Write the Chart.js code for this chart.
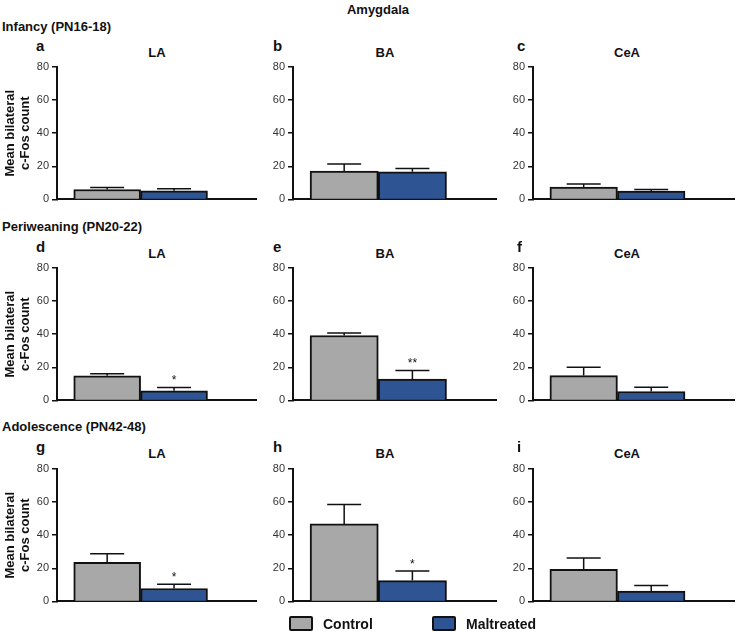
<!DOCTYPE html>
<html>
<head>
<meta charset="utf-8">
<script src="https://cdn.jsdelivr.net/npm/chart.js@4"></script>
<style>
  body { margin: 0; background: #fff; font-family: "Liberation Sans", Arial, sans-serif; }
  #wrap { position: relative; width: 736px; height: 632px; overflow: hidden; }
  canvas { position: absolute; }
  .t { position: absolute; font-weight: bold; color: #111; white-space: nowrap; line-height: 1; }
  .c { transform: translate(-50%, -50%); }
  .l { transform: translate(0, -50%); }
  .box { position: absolute; width: 20px; height: 11px; border: 2px solid #111; border-radius: 2px; }
</style>
</head>
<body>
<div id="wrap"></div>
<script>
// data
const figTitle = 'Amygdala';
const ages = ['Infancy (PN16-18)', 'Periweaning (PN20-22)', 'Adolescence (PN42-48)'];
const regions = ['LA', 'BA', 'CeA'];
const letters = [['a', 'b', 'c'], ['d', 'e', 'f'], ['g', 'h', 'i']];
const groups = ['Control', 'Maltreated'];
const yTicks = [0, 20, 40, 60, 80];

// rows = age, cols = region
const controlMean = [[6.0, 17.1, 7.5], [14.9, 39.2, 15.0], [23.6, 46.8, 19.4]];
const controlSem = [[1.2, 4.3, 1.8], [1.2, 1.6, 5.0], [5.2, 11.8, 6.8]];
const maltMean = [[5.2, 16.7, 5.0], [5.8, 12.9, 5.4], [7.8, 12.6, 6.2]];
const maltSem = [[1.3, 2.0, 1.0], [2.0, 5.2, 2.6], [2.6, 5.8, 3.4]];
const maltSig = [['', '', ''], ['*', '**', ''], ['*', '*', '']];

const colors = ['#a8a8a8', '#2e5494'];

const wrap = document.getElementById('wrap');

function addText(txt, x, y, size, cls) {
  const d = document.createElement('div');
  d.className = 't ' + cls;
  d.style.left = x + 'px';
  d.style.top = y + 'px';
  d.style.fontSize = size + 'px';
  d.textContent = txt;
  wrap.appendChild(d);
}

// error bars + significance stars, drawn from the y scale
const errorBars = {
  id: 'errbars',
  afterDatasetsDraw(chart, args, opts) {
    const ctx = chart.ctx;
    const meta = chart.getDatasetMeta(0);
    const ys = chart.scales.y;
    ctx.save();
    ctx.strokeStyle = '#111';
    ctx.lineWidth = 1.5;
    meta.data.forEach((bar, i) => {
      const v = chart.data.datasets[0].data[i].y;
      const top = ys.getPixelForValue(v + opts.sem[i]);
      ctx.beginPath();
      ctx.moveTo(bar.x, bar.y);
      ctx.lineTo(bar.x, top);
      ctx.moveTo(bar.x - 17, top);
      ctx.lineTo(bar.x + 17, top);
      ctx.stroke();
      if (opts.sig[i]) {
        ctx.fillStyle = '#111';
        ctx.font = '12px "Liberation Sans"';
        ctx.textAlign = 'center';
        ctx.textBaseline = 'alphabetic';
        ctx.fillText(opts.sig[i], bar.x, top - 3);
      }
    });
    ctx.restore();
  }
};

const colLeft = [0, 240, 480];
const colAxisW = [57, 53, 53];
const colWidth = [257, 257, 255];
const rowTop = [57, 258, 459];
const letterX = [36, 273, 517];
const regionX = [157, 385, 627];
const ageY = [26, 226, 426];
const letterY = [45, 246, 446];
const regionY = [52, 253, 453];

addText(figTitle, 378, 9, 13, 'c');

for (let r = 0; r < 3; r++) {
  addText(ages[r], 2, ageY[r], 13, 'l');
  for (let c = 0; c < 3; c++) {
    addText(letters[r][c], letterX[c], letterY[r], 15, 'l');
    addText(regions[c], regionX[c], regionY[r], 13, 'c');

    const cv = document.createElement('canvas');
    cv.width = colWidth[c];
    cv.height = 152;
    cv.style.left = colLeft[c] + 'px';
    cv.style.top = rowTop[r] + 'px';
    wrap.appendChild(cv);

    const means = [controlMean[r][c], maltMean[r][c]];
    const sems = [controlSem[r][c], maltSem[r][c]];
    const sig = ['', maltSig[r][c]];

    new Chart(cv.getContext('2d'), {
      type: 'bar',
      data: {
        datasets: [{
          label: regions[c],
          data: groups.map((g, i) => ({ x: i + 1, y: means[i] })),
          backgroundColor: colors,
          borderColor: '#111',
          borderWidth: 2,
          barPercentage: 1,
          categoryPercentage: 1
        }]
      },
      options: {
        responsive: false,
        animation: false,
        devicePixelRatio: 1,
        layout: { padding: { top: 10, bottom: 8, left: 0, right: 0 } },
        plugins: {
          legend: { display: false },
          tooltip: { enabled: false },
          errbars: { sem: sems, sig: sig }
        },
        scales: {
          x: {
            type: 'linear',
            offset: false,
            min: 0.25,
            max: 3.24,
            afterBuildTicks: s => { s.ticks = [{ value: 1 }, { value: 2 }]; },
            afterFit: s => { s.height = 0; },
            ticks: { display: false },
            grid: { display: false, offset: false },
            border: { color: '#111', width: 2 }
          },
          y: {
            min: 0,
            max: 80,
            afterBuildTicks: s => { s.ticks = yTicks.map(v => ({ value: v })); },
            afterFit: s => { s.width = colAxisW[c]; },
            ticks: { color: '#333', font: { family: 'Liberation Sans', size: 11 }, padding: 3 },
            grid: { drawOnChartArea: false, tickLength: 5, color: '#111', lineWidth: 1.5 },
            border: { color: '#111', width: 2 },
            title: {
              display: c === 0,
              text: ['Mean bilateral', 'c-Fos count'],
              color: '#111',
              font: { family: 'Liberation Sans', size: 13, weight: 'bold', lineHeight: 1.15 },
              padding: { top: 2.5, bottom: 0 }
            }
          }
        }
      },
      plugins: [errorBars]
    });
  }
}

// legend
const legX = [289, 432];
groups.forEach((g, i) => {
  const b = document.createElement('div');
  b.className = 'box';
  b.style.left = legX[i] + 'px';
  b.style.top = '616px';
  b.style.background = colors[i];
  wrap.appendChild(b);
  addText(g, legX[i] + 34, 624, 14, 'l');
});
</script>
</body>
</html>
